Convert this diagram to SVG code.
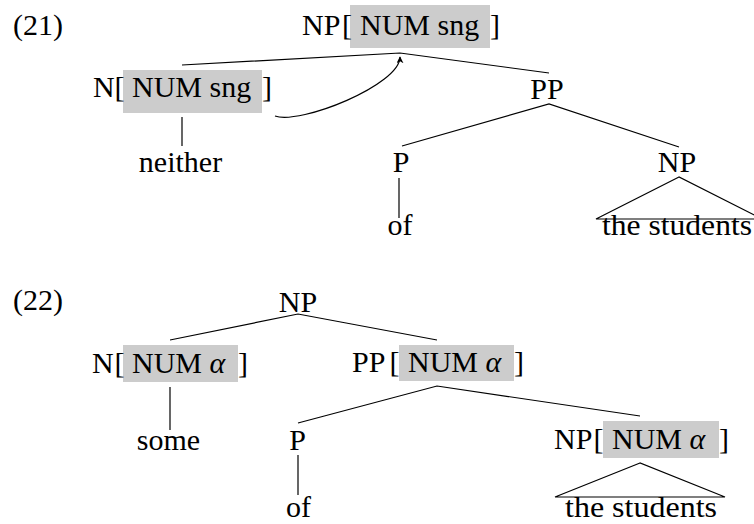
<svg xmlns="http://www.w3.org/2000/svg" width="754" height="524" viewBox="0 0 754 524">
<style>
text{font-family:"Liberation Serif","Tinos","DejaVu Serif",serif;font-size:30px;fill:#000}
.m{text-anchor:middle}
.box{fill:#cccccc}
.ln{stroke:#000;stroke-width:1.2;fill:none}
.al{font-style:italic}
</style>
<defs>
<marker id="arr" viewBox="0 0 10 10" refX="9" refY="5" markerWidth="7" markerHeight="7" orient="auto" markerUnits="userSpaceOnUse">
<path d="M0,0 L10,5 L0,10 L3,5 Z" fill="#000"/>
</marker>
</defs>
<rect width="754" height="524" fill="#fff"/>

<g id="ex21"><text x="13" y="35">(21)</text></g>
<g id="ex22"><text x="13" y="310">(22)</text></g>

<!-- Tree 21 -->
<g id="t21-np">
<rect class="box" x="350" y="5" width="140" height="43"/>
<text x="302" y="35">NP</text><text x="342" y="35">[</text>
<text x="360" y="35">NUM sng</text><text x="490" y="35">]</text>
</g>
<g id="t21-n">
<rect class="box" x="123" y="70" width="139" height="43"/>
<text x="93" y="97">N</text><text x="114.5" y="97">[</text>
<text x="132" y="97">NUM sng</text><text x="262" y="97">]</text>
</g>
<g id="t21-neither"><text class="m" x="180.5" y="172">neither</text></g>
<g id="t21-pp"><text class="m" x="547" y="99">PP</text></g>
<g id="t21-p"><text class="m" x="401" y="172">P</text></g>
<g id="t21-of"><text class="m" x="400" y="235">of</text></g>
<g id="t21-np2"><text class="m" x="677" y="172">NP</text></g>
<g id="t21-students"><text x="602" y="235" textLength="150" lengthAdjust="spacingAndGlyphs">the students</text></g>

<!-- Tree 22 -->
<g id="t22-np"><text class="m" x="298" y="312">NP</text></g>
<g id="t22-n">
<rect class="box" x="123" y="345" width="115" height="37"/>
<text x="92" y="373">N</text><text x="114.5" y="373">[</text>
<text x="132" y="373">NUM <tspan class="al">α</tspan></text><text x="238" y="373">]</text>
</g>
<g id="t22-some"><text class="m" x="168.5" y="450">some</text></g>
<g id="t22-pp">
<rect class="box" x="399" y="345" width="115" height="36"/>
<text x="352" y="372">PP</text><text x="389.5" y="372">[</text>
<text x="408" y="372">NUM <tspan class="al">α</tspan></text><text x="514" y="372">]</text>
</g>
<g id="t22-p"><text class="m" x="297.5" y="450">P</text></g>
<g id="t22-of"><text class="m" x="298.5" y="517">of</text></g>
<g id="t22-np2">
<rect class="box" x="603" y="421" width="116" height="37"/>
<text x="554" y="449">NP</text><text x="593.5" y="449">[</text>
<text x="612" y="449">NUM <tspan class="al">α</tspan></text><text x="719" y="449">]</text>
</g>
<g id="t22-students"><text x="565" y="517" textLength="152" lengthAdjust="spacingAndGlyphs">the students</text></g>

<g id="connectors" class="ln">
<!-- tree 21 -->
<polyline points="182,65 400,53 549,73"/>
<polyline points="402,146 549,104 679,147"/>
<line x1="182" y1="117" x2="182" y2="146"/>
<line x1="399" y1="178" x2="399" y2="218"/>
<polygon points="679,177 596,219 762,219"/>
<path d="M275,116 C300,125 400,85 400,57" marker-end="url(#arr)"/>
<!-- tree 22 -->
<polyline points="170,340 298,314 437,340"/>
<polyline points="298,423 437,386 640,416"/>
<line x1="170" y1="387" x2="170" y2="430"/>
<line x1="298" y1="455" x2="298" y2="495"/>
<polygon points="640,463 555,497 725,497"/>
</g>
</svg>
